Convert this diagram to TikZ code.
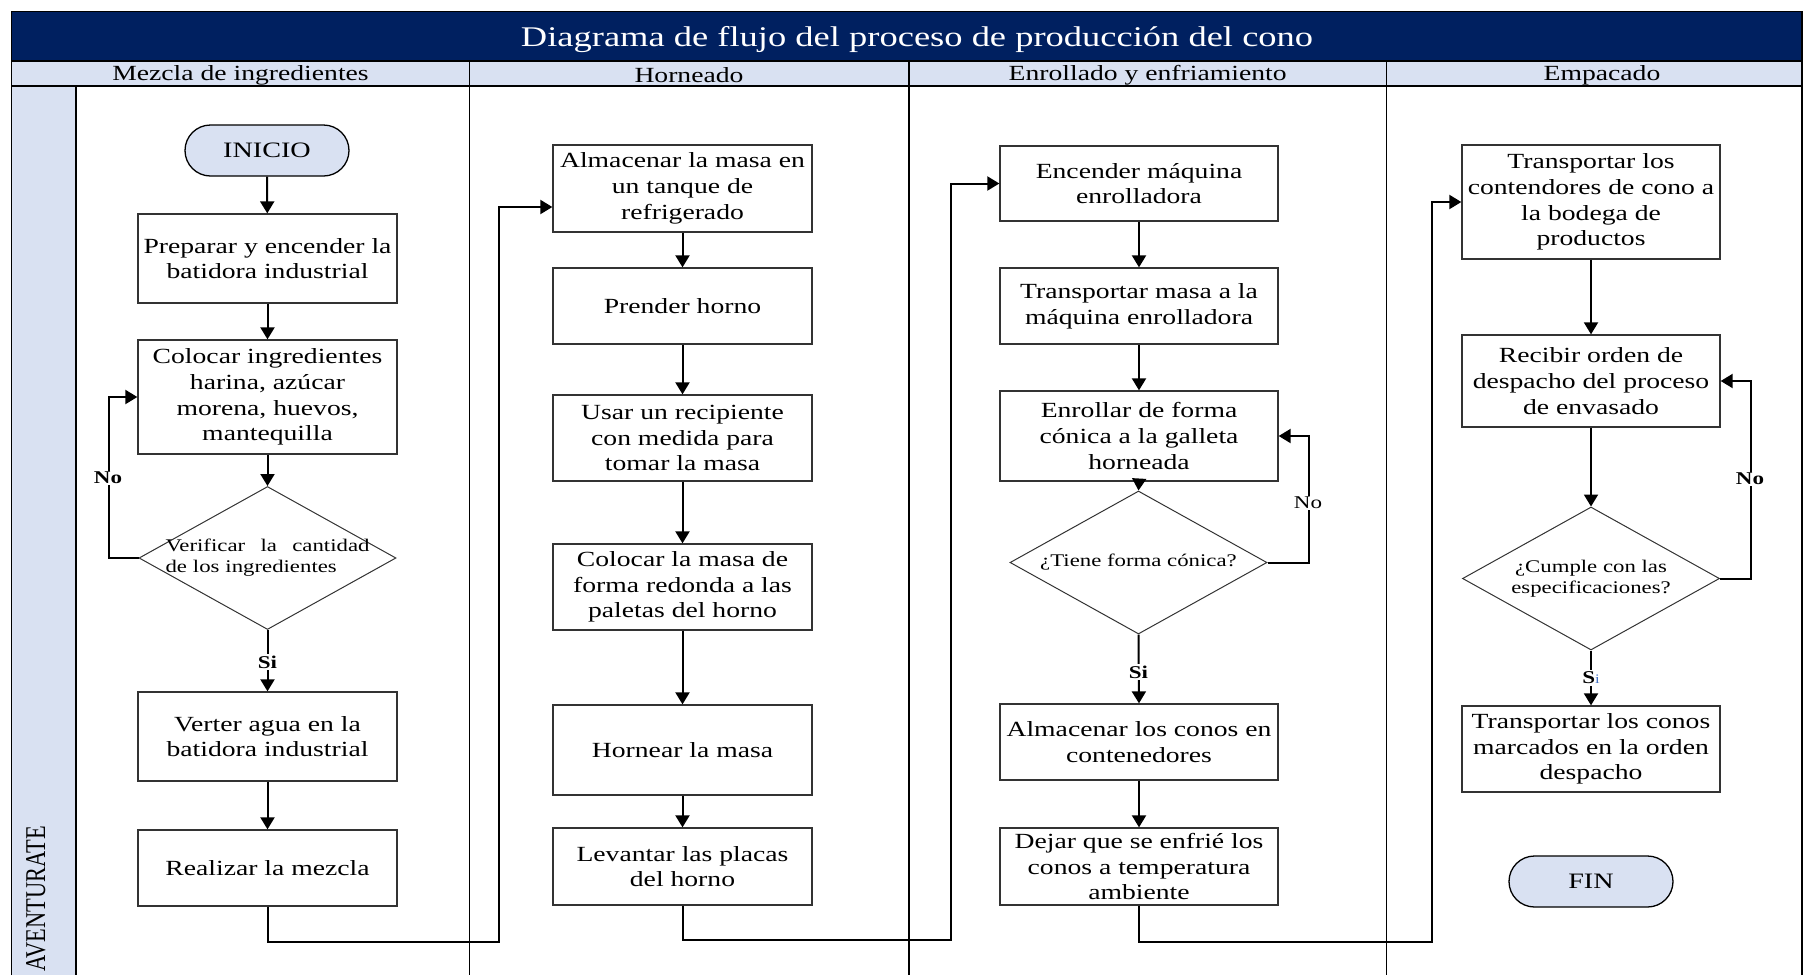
\documentclass[tikz,border=0pt]{standalone}
\usepackage{fontspec}
\setmainfont{Liberation Serif}[FakeStretch=1.28]
\newfontfamily\plainserif{Liberation Serif}
\usetikzlibrary{arrows.meta,shapes.geometric,shapes.misc}
\definecolor{navy}{RGB}{0,32,96}
\definecolor{lav}{RGB}{217,225,242}
\definecolor{tagblue}{RGB}{68,114,196}

\begin{document}
\begin{tikzpicture}[x=1pt,y=-1pt,
  proc/.style={draw=black!80, line width=1.3pt, fill=white, rectangle, inner sep=0pt,
    align=center, font=\fontsize{21.6}{25.7}\selectfont},
  term/.style={draw=black, line width=1.3pt, fill=lav, rounded rectangle, inner sep=0pt,
    minimum width=164pt, minimum height=51pt, font=\fontsize{22}{26}\selectfont},
  dec/.style={draw=black!80, line width=1pt, diamond, inner sep=0pt,
    minimum width=257pt, minimum height=143pt},
  dectext/.style={font=\fontsize{17.8}{21}\selectfont, align=center, inner sep=0pt},
  flow/.style={line width=2pt, -{Triangle[length=12pt,width=14pt]}},
  tag/.style={fill=white, inner sep=1.5pt, font=\bfseries\fontsize{18}{20}\selectfont},
  lane/.style={line width=1.6pt},
  head/.style={font=\fontsize{21.6}{24}\selectfont}
]
\useasboundingbox (0,0) rectangle (1804,975);

% ---------- pool frame ----------
\fill[navy] (11.5,11.5) rectangle (1802,61);
\fill[lav] (11.5,61) rectangle (1802,86);
\fill[lav] (11.5,86) rectangle (76,975);
\draw[lane] (11.5,975) -- (11.5,11.5) -- (1802,11.5) -- (1802,975);
\draw[lane] (11.5,61) -- (1802,61);
\draw[lane] (11.5,86) -- (1802,86);
\draw[lane] (76,86) -- (76,975);
\draw[lane] (469.4,61) -- (469.4,975);
\draw[lane] (908.9,61) -- (908.9,975);
\draw[lane] (1386.4,61) -- (1386.4,975);

\node[text=white, font=\fontsize{28.5}{32}\selectfont] (title) at (917,39.5)
  {Diagrama de flujo del proceso de producción del cono};
\node[head] (hd1) at (240.5,75.5) {Mezcla de ingredientes};
\node[head] (hd2) at (689,75.5) {Horneado};
\node[head] (hd3) at (1147.6,75.5) {Enrollado y enfriamiento};
\node[head] (hd4) at (1602,75.5) {Empacado};
\node[rotate=90, anchor=base west, font=\plainserif\fontsize{22.4}{24}\selectfont] (pool)
  at (45,975) {\scalebox{1}[1.28]{AVENTURATE}};

% ---------- Mezcla de ingredientes ----------
\node[term] (ini) at (267,150.5) {INICIO};
\node[proc, minimum width=259pt, minimum height=89pt] (p1) at (267.5,258.5)
  {Preparar y encender la\\batidora industrial};
\node[proc, minimum width=259pt, minimum height=114pt] (p2) at (267.5,397)
  {Colocar ingredientes\\harina, azúcar\\morena, huevos,\\mantequilla};
\node[dec] (d1) at (267.5,558) {};
\node[dectext, text width=204pt, align=left] (d1t) at (267.5,558)
  {\hbox to 204pt{Verificar\hfill la\hfill cantidad}\\de los ingredientes};
\node[proc, minimum width=259pt, minimum height=89pt] (p3) at (267.5,736.5)
  {Verter agua en la\\batidora industrial};
\node[proc, minimum width=259pt, minimum height=76pt] (p4) at (267.5,868)
  {Realizar la mezcla};

% ---------- Horneado ----------
\node[proc, minimum width=259pt, minimum height=87pt] (h1) at (682.5,188.5)
  {Almacenar la masa en\\un tanque de\\refrigerado};
\node[proc, minimum width=259pt, minimum height=76pt] (h2) at (682.5,306)
  {Prender horno};
\node[proc, minimum width=259pt, minimum height=86pt] (h3) at (682.5,438)
  {Usar un recipiente\\con medida para\\tomar la masa};
\node[proc, minimum width=259pt, minimum height=86pt] (h4) at (682.5,587)
  {Colocar la masa de\\forma redonda a las\\paletas del horno};
\node[proc, minimum width=259pt, minimum height=90pt] (h5) at (682.5,750)
  {Hornear la masa};
\node[proc, minimum width=259pt, minimum height=77pt] (h6) at (682.5,866.5)
  {Levantar las placas\\del horno};

% ---------- Enrollado y enfriamiento ----------
\node[proc, minimum width=278pt, minimum height=75pt] (e1) at (1139,183.5)
  {Encender máquina\\enrolladora};
\node[proc, minimum width=278pt, minimum height=76pt] (e2) at (1139,306)
  {Transportar masa a la\\máquina enrolladora};
\node[proc, minimum width=278pt, minimum height=90pt] (e3) at (1139,436)
  {Enrollar de forma\\cónica a la galleta\\horneada};
\node[dec] (d2) at (1138.5,562.5) {};
\node[dectext] (d2t) at (1138.5,562.5) {¿Tiene forma cónica?};
\node[proc, minimum width=278pt, minimum height=76pt] (e4) at (1139,742)
  {Almacenar los conos en\\contenedores};
\node[proc, minimum width=278pt, minimum height=77pt] (e5) at (1139,866.5)
  {Dejar que se enfrié los\\conos a temperatura\\ambiente};

% ---------- Empacado ----------
\node[proc, minimum width=258pt, minimum height=114pt] (k1) at (1591,202)
  {Transportar los\\contendores de cono a\\la bodega de\\productos};
\node[proc, minimum width=258pt, minimum height=92pt] (k2) at (1591,381)
  {Recibir orden de\\despacho del proceso\\de envasado};
\node[dec] (d3) at (1591,578.5) {};
\node[dectext] (d3t) at (1591,578.5) {¿Cumple con las\\especificaciones?};
\node[proc, minimum width=258pt, minimum height=86pt] (k3) at (1591,749)
  {Transportar los conos\\marcados en la orden\\despacho};
\node[term] (fin) at (1591,881.5) {FIN};

% ---------- connectors ----------
\draw[flow] (ini) -- (p1);
\draw[flow] (p1) -- (p2);
\draw[flow] (p2) -- (d1);
\draw[flow] (d1.south) -- (p3.north);
\draw[flow] (p3) -- (p4);
\draw[flow] (d1.west) -- ++(-30,0) |- (p2.west);
\node[tag] (no1) at (108,478) {No};
\node[tag] (si1) at (267.5,662) {Si};

\coordinate (j1) at (499,942);
\draw[flow] (p4.south) |- (j1) |- ([yshift=-18.5pt]h1.west);

\draw[flow] (h1) -- (h2);
\draw[flow] (h2) -- (h3);
\draw[flow] (h3) -- (h4);
\draw[flow] (h4) -- (h5);
\draw[flow] (h5) -- (h6);

\coordinate (j2) at (951,940);
\draw[flow] (h6.south) |- (j2) |- (e1.west);

\draw[flow] (e1) -- (e2);
\draw[flow] (e2) -- (e3);
\draw[flow] (e3.south) -- (d2.north);
\draw[flow] (d2.south) -- (e4.north);
\draw[flow] (e4) -- (e5);
\draw[flow] (d2.east) -- ++(41,0) |- (e3.east);
\node[tag, font=\fontsize{18}{20}\selectfont] (no2) at (1308,503) {No};
\node[tag] (si2) at (1138.5,672) {Si};

\coordinate (j3) at (1432,942);
\draw[flow] (e5.south) |- (j3) |- (k1.west);

\draw[flow] (k1) -- (k2);
\draw[flow] (k2.south) -- (d3.north);
\draw[flow] (d3.south) -- (k3.north);
\draw[flow] (d3.east) -- ++(31,0) |- (k2.east);
\node[tag] (no3) at (1750,479) {No};
\node[tag] (si3) at (1591,678) {S\textcolor{tagblue}{\mdseries\fontsize{13}{14}\selectfont i}};
\end{tikzpicture}
\end{document}
